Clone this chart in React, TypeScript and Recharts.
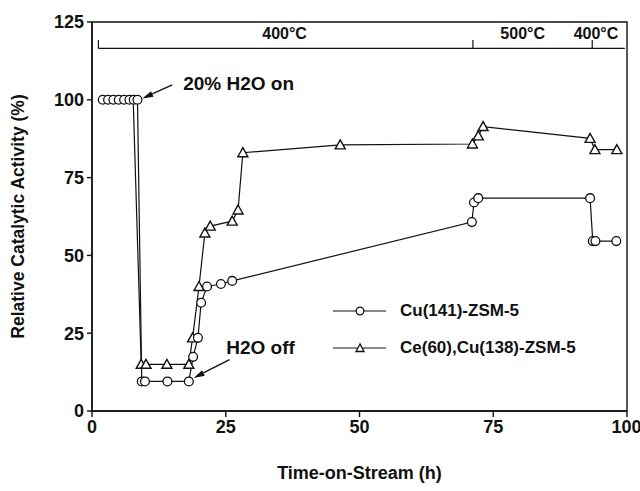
import { LineChart, Line, XAxis, YAxis, ReferenceLine, ReferenceArea, ReferenceDot } from 'recharts'

// Cu(141)-ZSM-5
const cuHours = [2, 3, 4, 5, 6, 7, 7.8, 8.5, 9.3, 9.9, 14.1, 18.1, 18.9, 19.8, 20.4, 21.5, 24.1, 26.2, 71.0, 71.4, 72.2, 93.1, 93.6, 94.1, 98.0]
const cuActivity = [100, 100, 100, 100, 100, 100, 100, 100, 9.5, 9.5, 9.5, 9.5, 17.4, 23.5, 34.8, 40.0, 40.8, 41.8, 60.7, 67.0, 68.4, 68.4, 54.6, 54.6, 54.6]

// Ce(60),Cu(138)-ZSM-5
const ceHours = [2, 3, 4, 5, 6, 7, 7.7, 9.2, 10.1, 14.0, 18.1, 18.8, 20.0, 21.1, 22.1, 26.2, 27.3, 28.2, 46.4, 71.1, 72.2, 73.1, 93.1, 94.0, 98.1]
const ceActivity = [100, 100, 100, 100, 100, 100, 100, 15, 15, 15, 15, 23.5, 40.0, 57.2, 59.4, 61.0, 64.6, 83.0, 85.5, 85.8, 88.4, 91.4, 87.6, 84.0, 84.0]

const xTicks = [0, 25, 50, 75, 100]
const yTicks = [0, 25, 50, 75, 100, 125]

// temperature program bracket
const tempStart = 1.2
const tempEnd = 99.6
const tempBreaks = [1.2, 71.2, 93.5]
const tempLabels = ['400°C', '500°C', '400°C']
const tempLabelHours = [36, 80.5, 94.2]

const seriesNames = ['Cu(141)-ZSM-5', 'Ce(60),Cu(138)-ZSM-5']

const cuData = cuHours.map((h, i) => ({ h, v: cuActivity[i] }))
const ceData = ceHours.map((h, i) => ({ h, v: ceActivity[i] }))

const font = '"Liberation Sans", Arial, sans-serif'
const ink = '#111'

const Circle = (props: any) => {
	const { cx, cy } = props
	if (cx == null || cy == null) return null
	return <circle cx={cx} cy={cy} r={4.4} fill="#fff" stroke={ink} strokeWidth={1.3} />
}

const Triangle = (props: any) => {
	const { cx, cy, payload } = props
	if (cx == null || cy == null || payload.v >= 100) return null
	return (
		<polygon
			points={`${cx},${cy - 5} ${cx - 5},${cy + 4} ${cx + 5},${cy + 4}`}
			fill="#fff"
			stroke={ink}
			strokeWidth={1.4}
		/>
	)
}

const Arrow = (props: any) => {
	const { x1, y1, x2, y2 } = props
	const ang = Math.atan2(y2 - y1, x2 - x1)
	const len = 11
	const w = 3
	const bx = x2 - len * Math.cos(ang)
	const by = y2 - len * Math.sin(ang)
	const px = -Math.sin(ang) * w
	const py = Math.cos(ang) * w
	return (
		<g>
			<line x1={x1} y1={y1} x2={bx} y2={by} stroke={ink} strokeWidth={1.4} />
			<polygon points={`${x2},${y2} ${bx + px},${by + py} ${bx - px},${by - py}`} fill={ink} />
		</g>
	)
}

const LegendBox = () => (
	<div
		style={{
			position: 'absolute',
			left: 333,
			top: 292,
			fontFamily: font,
			fontWeight: 'bold',
			fontSize: 17,
			color: ink,
		}}
	>
		{seriesNames.map((name, i) => (
			<div key={name} style={{ display: 'flex', alignItems: 'center', height: 37 }}>
				<svg width={56} height={14}>
					<line x1={0} y1={7} x2={53} y2={7} stroke={ink} strokeWidth={1.2} />
					{i === 1 ? (
						<polygon points="27,3 23,10.5 31,10.5" fill="#fff" stroke={ink} strokeWidth={1.3} />
					) : (
						<circle cx={27} cy={7} r={3.8} fill="#fff" stroke={ink} strokeWidth={1.3} />
					)}
				</svg>
				<span style={{ marginLeft: 11 }}>{name}</span>
			</div>
		))}
	</div>
)

export default function App() {
	const tickStyle = { fontFamily: font, fontWeight: 'bold', fontSize: 18, fill: ink }
	const noteStyle = { fontFamily: font, fontWeight: 'bold', fontSize: 19, fill: ink }
	return (
		<div style={{ position: 'absolute', left: 0, top: 0, width: 640, height: 491, background: '#fff' }}>
			<LineChart width={640} height={491} margin={{ top: 22, right: 13, left: 0, bottom: 0 }}>
				<XAxis
					dataKey="h"
					type="number"
					domain={[0, 100]}
					ticks={xTicks}
					allowDataOverflow
					height={80}
					tick={tickStyle}
					tickSize={6}
					tickMargin={3}
					stroke={ink}
					strokeWidth={1.4}
					label={{
						value: 'Time-on-Stream (h)',
						position: 'insideBottom',
						offset: 12,
						style: { fontFamily: font, fontWeight: 'bold', fontSize: 18, fill: ink },
					}}
				/>
				<YAxis
					dataKey="v"
					type="number"
					domain={[0, 125]}
					ticks={yTicks}
					allowDataOverflow
					width={92}
					tick={tickStyle}
					tickSize={5}
					tickMargin={3}
					stroke={ink}
					strokeWidth={1.4}
					label={{
						value: 'Relative Catalytic Activity (%)',
						angle: -90,
						position: 'center',
						dx: -28,
						style: { fontFamily: font, fontWeight: 'bold', fontSize: 17.5, fill: ink, textAnchor: 'middle' },
					}}
				/>
				<ReferenceArea x1={0} x2={100} y1={0} y2={125} fill="none" stroke={ink} strokeWidth={1.4} ifOverflow="visible" />

				<ReferenceLine
					segment={[{ x: tempStart, y: 116.5 }, { x: tempEnd, y: 116.5 }]}
					stroke={ink}
					strokeWidth={1.2}
				/>
				{tempBreaks.map((h) => (
					<ReferenceLine key={`tb-${h}`} segment={[{ x: h, y: 116.5 }, { x: h, y: 119.2 }]} stroke={ink} strokeWidth={1.2} />
				))}
				{tempLabels.map((t, i) => (
					<ReferenceDot
						key={`tl-${i}`}
						x={tempLabelHours[i]}
						y={121.5}
						r={0}
						stroke="none"
						fill="none"
						label={{ value: t, position: 'center', style: { fontFamily: font, fontWeight: 'bold', fontSize: 16, fill: ink } }}
					/>
				))}

				<ReferenceLine segment={[{ x: 15.0, y: 104.8 }, { x: 9.4, y: 100.4 }]} shape={Arrow} />
				<ReferenceDot
					x={27.4}
					y={105.2}
					r={0}
					stroke="none"
					fill="none"
					label={{ value: '20% H2O on', position: 'center', style: noteStyle }}
				/>
				<ReferenceLine segment={[{ x: 25.7, y: 16.5 }, { x: 19.0, y: 10.6 }]} shape={Arrow} />
				<ReferenceDot
					x={31.5}
					y={20.5}
					r={0}
					stroke="none"
					fill="none"
					label={{ value: 'H2O off', position: 'center', style: noteStyle }}
				/>

				<Line
					data={ceData}
					dataKey="v"
					name={seriesNames[1]}
					stroke={ink}
					strokeWidth={1.2}
					dot={<Triangle />}
					activeDot={false}
					isAnimationActive={false}
				/>
				<Line
					data={cuData}
					dataKey="v"
					name={seriesNames[0]}
					stroke={ink}
					strokeWidth={1.2}
					dot={<Circle />}
					activeDot={false}
					isAnimationActive={false}
				/>
			</LineChart>
			<LegendBox />
		</div>
	)
}
